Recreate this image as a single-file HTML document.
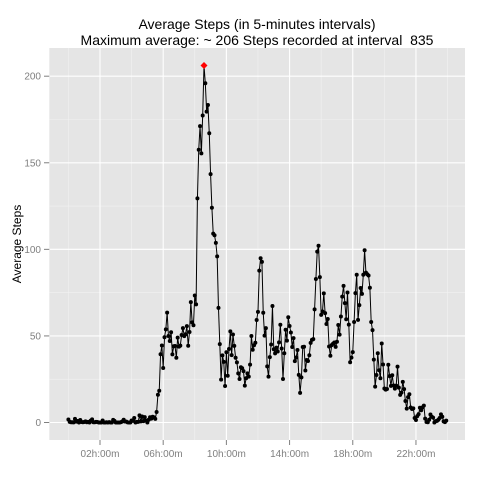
<!DOCTYPE html>
<html><head><meta charset="utf-8"><style>
body{margin:0;background:#fff;font-family:"Liberation Sans",sans-serif}
</style></head><body>
<svg id="chart" width="480" height="480" xmlns="http://www.w3.org/2000/svg">
<rect x="49.3" y="48" width="415.7" height="392" fill="#e5e5e5"/>
<g id="grid"></g>
<g id="axes"></g>
<g id="series"></g>
<text x="257" y="29" text-anchor="middle" font-size="14" fill="#000">Average Steps (in 5-minutes intervals)</text>
<text x="257" y="45" text-anchor="middle" font-size="14" fill="#000">Maximum average: ~ 206 Steps recorded at interval &#160;835</text>
<text transform="translate(21,244) rotate(-90)" text-anchor="middle" font-size="12" fill="#000">Average Steps</text>
</svg>
<script>
const intervals=[0,5,10,15,20,25,30,35,40,45,50,55,100,105,110,115,120,125,130,135,140,145,150,155,200,205,210,215,220,225,230,235,240,245,250,255,300,305,310,315,320,325,330,335,340,345,350,355,400,405,410,415,420,425,430,435,440,445,450,455,500,505,510,515,520,525,530,535,540,545,550,555,600,605,610,615,620,625,630,635,640,645,650,655,700,705,710,715,720,725,730,735,740,745,750,755,800,805,810,815,820,825,830,835,840,845,850,855,900,905,910,915,920,925,930,935,940,945,950,955,1000,1005,1010,1015,1020,1025,1030,1035,1040,1045,1050,1055,1100,1105,1110,1115,1120,1125,1130,1135,1140,1145,1150,1155,1200,1205,1210,1215,1220,1225,1230,1235,1240,1245,1250,1255,1300,1305,1310,1315,1320,1325,1330,1335,1340,1345,1350,1355,1400,1405,1410,1415,1420,1425,1430,1435,1440,1445,1450,1455,1500,1505,1510,1515,1520,1525,1530,1535,1540,1545,1550,1555,1600,1605,1610,1615,1620,1625,1630,1635,1640,1645,1650,1655,1700,1705,1710,1715,1720,1725,1730,1735,1740,1745,1750,1755,1800,1805,1810,1815,1820,1825,1830,1835,1840,1845,1850,1855,1900,1905,1910,1915,1920,1925,1930,1935,1940,1945,1950,1955,2000,2005,2010,2015,2020,2025,2030,2035,2040,2045,2050,2055,2100,2105,2110,2115,2120,2125,2130,2135,2140,2145,2150,2155,2200,2205,2210,2215,2220,2225,2230,2235,2240,2245,2250,2255,2300,2305,2310,2315,2320,2325,2330,2335,2340,2345,2350,2355];
const steps=[1.72,0.34,0.13,0.15,0.08,2.09,0.53,0.87,0,1.47,0.3,0.13,0.32,0.68,0.15,0.34,0,1.11,1.83,0.17,0.17,0.38,0.26,0,0,0,1.13,0,0,0.13,0,0.23,0,0,1.55,0.94,0,0,0,0,0.21,0.62,1.62,0.58,0.49,0.08,0,0,1.19,0.94,2.57,0,0.34,0.36,4.11,0.66,3.49,0.83,3.11,1.11,0,1.57,3,2.25,3.32,2.96,2.09,6.06,16.02,18.34,39.45,44.49,31.49,49.26,53.77,63.45,49.96,47.08,52.15,39.34,44.02,44.17,37.36,49.04,43.81,44.38,50.51,54.51,49.92,50.98,55.68,44.32,52.26,69.55,57.85,56.15,73.38,68.21,129.43,157.53,171.15,155.4,177.3,206.17,195.92,179.57,183.4,167.02,143.45,124.04,109.11,108.11,103.72,95.96,66.21,45.23,24.79,38.75,34.98,21.06,40.57,26.98,42.42,52.66,38.92,50.79,44.28,37.42,34.7,28.34,25.09,31.94,31.36,29.68,21.32,25.55,28.38,26.47,33.43,49.98,42.04,44.6,46.04,59.19,63.87,87.7,94.85,92.77,63.4,50.17,54.47,32.42,26.53,37.74,45.06,67.28,42.34,39.89,43.26,40.98,46.25,56.43,42.75,25.13,39.96,53.55,47.32,60.81,55.75,51.96,43.58,48.7,35.47,37.55,41.85,27.51,17.11,26.08,43.62,43.77,30.02,36.08,35.49,38.85,45.96,47.75,48.13,65.32,82.91,98.66,102.11,83.96,62.13,64.13,74.55,63.17,56.91,59.77,43.87,38.57,44.66,45.45,46.21,43.68,46.62,56.3,50.72,61.23,72.72,78.94,68.94,59.66,75.09,56.51,34.77,37.45,40.68,58.02,74.7,85.32,59.26,67.77,77.7,74.25,85.34,99.45,86.58,85.6,84.87,77.83,58.04,53.36,36.32,20.72,27.4,40.02,30.21,25.55,45.66,33.53,19.62,19.02,19.34,33.34,26.81,21.17,27.3,21.34,19.55,21.32,32.3,20.15,15.94,17.23,23.45,19.25,12.45,8.02,14.66,16.3,8.68,7.79,8.13,2.62,1.45,3.68,4.81,8.51,7.08,8.7,9.75,2.21,0.32,0.11,1.6,4.6,3.3,2.85,0,0.83,0.96,1.58,2.6,4.7,3.3,0.64,0.23,1.08];
const yTicks=[0,50,100,150,200];
const xTickHours=[2,6,10,14,18,22];
const xTickLabels=["02h:00m","06h:00m","10h:00m","14h:00m","18h:00m","22h:00m"];

const NS="http://www.w3.org/2000/svg";
const PL=49.3,PR=465,PT=48,PB=440;
function xs(min){return 68.4+min*0.2633;}
function ys(v){return 422.5-v*1.7315;}
function mk(tag,attrs,parent){const e=document.createElementNS(NS,tag);for(const k in attrs)e.setAttribute(k,attrs[k]);parent.appendChild(e);return e;}
const grid=document.getElementById('grid'),axes=document.getElementById('axes'),series=document.getElementById('series');
for(let i=0;i<yTicks.length-1;i++){const v=(yTicks[i]+yTicks[i+1])/2;const l=mk('line',{x1:PL,x2:PR,y1:ys(v),y2:ys(v),stroke:'#f2f2f2','stroke-width':0.6},grid);

}
for(let h=0;h<=24;h+=4){const l=mk('line',{x1:xs(h*60),x2:xs(h*60),y1:PT,y2:PB,stroke:'#f2f2f2','stroke-width':0.6},grid);

}
yTicks.forEach(v=>{const y=ys(v);
const g=mk('line',{x1:PL,x2:PR,y1:y,y2:y,stroke:'#fff','stroke-width':1.1},grid);


const t=mk('line',{x1:44,x2:PL,y1:y,y2:y,stroke:'#7f7f7f','stroke-width':1},axes);


const tx=mk('text',{x:41,y:y+3.5,'text-anchor':'end','font-size':10,fill:'#7f7f7f'},axes);tx.textContent=v;

});
xTickHours.forEach((h,i)=>{const x=xs(h*60);
const g=mk('line',{x1:x,x2:x,y1:PT,y2:PB,stroke:'#fff','stroke-width':1.1},grid);


const t=mk('line',{x1:x,x2:x,y1:PB,y2:PB+5,stroke:'#7f7f7f','stroke-width':1},axes);


const tx=mk('text',{x:x,y:PB+17,'text-anchor':'middle','font-size':10,fill:'#7f7f7f'},axes);tx.textContent=xTickLabels[i];

});
function mins(iv){return Math.floor(iv/100)*60+iv%100;}
let d='';let maxI=0;
intervals.forEach((iv,i)=>{d+=(i?'L':'M')+xs(mins(iv)).toFixed(2)+' '+ys(steps[i]).toFixed(2);if(steps[i]>steps[maxI])maxI=i;});
const p=mk('path',{d:d,fill:'none',stroke:'#000','stroke-width':1},series);


intervals.forEach((iv,i)=>{const c=mk('circle',{cx:xs(mins(iv)),cy:ys(steps[i]),r:2,fill:'#000'},series);

});
const mx=xs(mins(intervals[maxI])),my=ys(steps[maxI]);
const m=mk('path',{d:'M'+mx+' '+(my-3.5)+'L'+(mx+3.5)+' '+my+'L'+mx+' '+(my+3.5)+'L'+(mx-3.5)+' '+my+'Z',fill:'#ff0000'},series);


</script>
</body></html>
